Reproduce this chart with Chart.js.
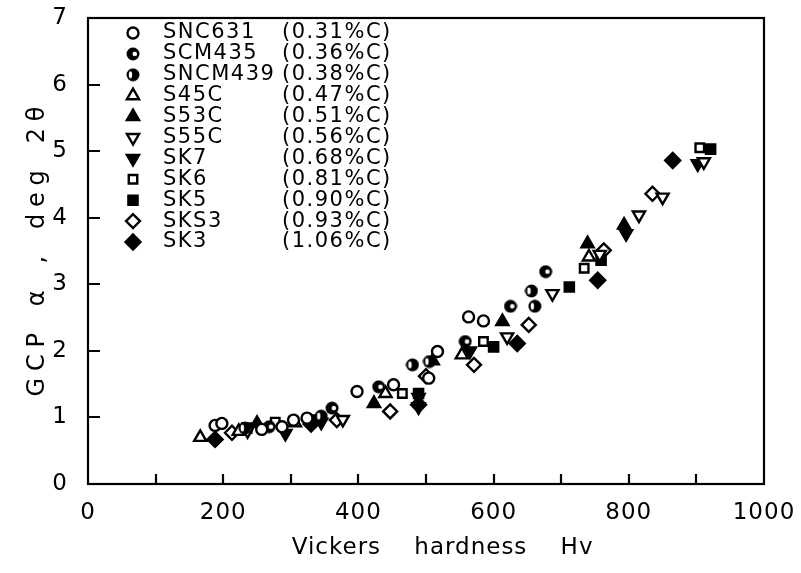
<!DOCTYPE html>
<html>
<head>
<meta charset="utf-8">
<style>
  html, body { margin: 0; padding: 0; background: #fff; }
  canvas { display: block; }
</style>
<script src="https://cdn.jsdelivr.net/npm/chart.js@4.4.0/dist/chart.umd.min.js"></script>
</head>
<body>
<canvas id="gcpChart" width="801" height="573"></canvas>
<script>
// steel grades and carbon content, in legend order
const steels = ['SNC631', 'SCM435', 'SNCM439', 'S45C', 'S53C', 'S55C', 'SK7', 'SK6', 'SK5', 'SKS3', 'SK3'];
const carbon = ['(0.31%C)', '(0.36%C)', '(0.38%C)', '(0.47%C)', '(0.51%C)', '(0.56%C)', '(0.68%C)', '(0.81%C)', '(0.90%C)', '(0.93%C)', '(1.06%C)'];

// [Vickers hardness Hv, GCP alpha (deg 2theta)]
const SNC631 = [[188, 0.88], [198, 0.91], [257, 0.82], [287, 0.86], [304, 0.96], [324, 0.99], [398, 1.39], [452, 1.49], [504, 1.59], [517, 1.99], [563, 2.51], [585, 2.45]];
const SCM435 = [[268, 0.86], [361, 1.14], [430, 1.46], [558, 2.14], [625, 2.67], [677, 3.19]];
const SNCM439 = [[232, 0.84], [345, 1.02], [480, 1.79], [505, 1.84], [661, 2.67], [656, 2.90]];
const S45C = [[166, 0.70], [223, 0.79], [306, 0.92], [440, 1.36], [553, 1.94], [741, 3.41]];
const S53C = [[250, 0.91], [423, 1.21], [510, 1.85], [613, 2.44], [739, 3.61], [793, 3.89]];
const S55C = [[236, 0.80], [377, 0.97], [620, 2.21], [687, 2.86], [757, 3.45], [815, 4.04], [850, 4.31], [911, 4.84]];
const SK7 = [[292, 0.76], [345, 0.93], [489, 1.16], [489, 1.30], [565, 2.00], [796, 3.76], [902, 4.81]];
const SK6 = [[277, 0.93], [465, 1.36], [585, 2.14], [734, 3.24], [905, 5.05]];
const SK5 = [[235, 0.84], [335, 0.96], [489, 1.36], [600, 2.06], [712, 2.96], [759, 3.36], [921, 5.03]];
const SKS3 = [[213, 0.77], [368, 0.96], [447, 1.09], [500, 1.62], [571, 1.79], [652, 2.39], [763, 3.51], [835, 4.36]];
const SK3 = [[188, 0.67], [330, 0.90], [489, 1.19], [635, 2.11], [754, 3.06], [865, 4.86]];

// axis ticks
const xTickLabels = [0, 200, 400, 600, 800, 1000];
const xTickMarks = [100, 200, 300, 400, 500, 600, 700, 800, 900];
const yTickLabels = [0, 1, 2, 3, 4, 5, 6, 7];
const yTickMarks = [1, 2, 3, 4, 5, 6];

// circle with a white spot, used for the two alloy steels
const makeDot = (side) => {
    const c = document.createElement('canvas');
    c.width = 14; c.height = 14;
    const g = c.getContext('2d');
    g.fillStyle = '#000';
    g.beginPath(); g.arc(7, 7, 6.5, 0, Math.PI * 2); g.fill();
    g.fillStyle = '#fff';
    g.beginPath();
    if (side === 'right') {
        g.arc(8.8, 7, 2.3, 0, Math.PI * 2);
    } else {
        g.ellipse(4.5, 7, 1.7, 3.4, 0, 0, Math.PI * 2);
    }
    g.fill();
    return c;
};

const seriesData = [SNC631, SCM435, SNCM439, S45C, S53C, S55C, SK7, SK6, SK5, SKS3, SK3];
const markers = [
    { style: 'circle', fill: false, rot: 0, r: 5.5 },
    { style: makeDot('right'), fill: true, rot: 0, r: 6.5 },
    { style: makeDot('left'), fill: true, rot: 0, r: 6.5 },
    { style: 'triangle', fill: false, rot: 0, r: 7 },
    { style: 'triangle', fill: true, rot: 0, r: 7 },
    { style: 'triangle', fill: false, rot: 180, r: 7 },
    { style: 'triangle', fill: true, rot: 180, r: 7 },
    { style: 'rect', fill: false, rot: 0, r: 6 },
    { style: 'rect', fill: true, rot: 0, r: 6.5 },
    { style: 'rectRot', fill: false, rot: 0, r: 7 },
    { style: 'rectRot', fill: true, rot: 0, r: 7.5 }
];

const datasets = steels.map((name, i) => ({
    label: name,
    data: seriesData[i].map(p => ({ x: p[0], y: p[1] })),
    pointStyle: markers[i].style,
    rotation: markers[i].rot,
    pointRadius: markers[i].r,
    pointHoverRadius: markers[i].r,
    borderWidth: 2.4,
    borderColor: '#000',
    backgroundColor: markers[i].fill ? '#000' : '#fff'
}));

// frame, inward tick marks and the in-plot legend
const framePlugin = {
    id: 'frame',
    beforeDraw(chart) {
        chart.ctx.letterSpacing = '1px';
    },
    afterDraw(chart) {
        const { ctx, chartArea: a, scales } = chart;
        ctx.save();
        ctx.letterSpacing = '0px';
        ctx.strokeStyle = '#000';
        ctx.lineWidth = 2.2;
        ctx.strokeRect(a.left, a.top, a.right - a.left, a.bottom - a.top);
        ctx.beginPath();
        xTickMarks.forEach(v => {
            const x = Math.round(scales.x.getPixelForValue(v));
            ctx.moveTo(x, a.bottom);
            ctx.lineTo(x, a.bottom - 10);
        });
        yTickMarks.forEach(v => {
            const y = Math.round(scales.y.getPixelForValue(v));
            ctx.moveTo(a.left, y);
            ctx.lineTo(a.left + 12, y);
        });
        ctx.stroke();

        // legend
        ctx.font = '21px "DejaVu Sans"';
        ctx.letterSpacing = '1.5px';
        ctx.fillStyle = '#000';
        ctx.textBaseline = 'middle';
        steels.forEach((name, i) => {
            const y = 33 + i * 20.9;
            const m = markers[i];
            const opts = { pointStyle: m.style, rotation: m.rot, radius: m.r, borderWidth: 2.4 };
            ctx.save();
            ctx.strokeStyle = '#000';
            ctx.lineWidth = 2.4;
            ctx.fillStyle = m.fill ? '#000' : '#fff';
            Chart.helpers.drawPoint(ctx, opts, 133, y);
            ctx.restore();
            ctx.fillText(name, 163, y);
            ctx.fillText(carbon[i], 282, y);
        });
        ctx.restore();
    }
};

const ctx = document.getElementById('gcpChart').getContext('2d');
new Chart(ctx, {
    type: 'scatter',
    data: { datasets },
    options: {
        responsive: false,
        animation: false,
        layout: { padding: { top: 18, right: 37, left: 0, bottom: 0 } },
        plugins: {
            legend: { display: false },
            tooltip: { enabled: false }
        },
        scales: {
            x: {
                type: 'linear',
                min: 0,
                max: 1000,
                afterFit: (scale) => {
                    scale.height = 89;
                    scale.paddingLeft = 0;
                    scale.paddingRight = 0;
                },
                grid: { display: false, drawTicks: false },
                border: { display: false },
                ticks: {
                    stepSize: 100,
                    autoSkip: false,
                    maxRotation: 0,
                    padding: 15,
                    color: '#000',
                    font: { family: 'DejaVu Sans', size: 23 },
                    callback: (v) => xTickLabels.includes(v) ? String(v) : ''
                },
                title: {
                    display: true,
                    text: '    Vickers    hardness    Hv',
                    color: '#000',
                    font: { family: 'DejaVu Sans', size: 23 },
                    padding: { top: 0, bottom: 11 }
                }
            },
            y: {
                type: 'linear',
                min: 0,
                max: 7,
                afterFit: (scale) => {
                    scale.width = 88;
                    scale.paddingTop = 0;
                    scale.paddingBottom = 0;
                },
                grid: { display: false, drawTicks: false },
                border: { display: false },
                ticks: {
                    stepSize: 1,
                    padding: 20,
                    color: '#000',
                    font: { family: 'DejaVu Sans', size: 23 },
                    callback: (v) => yTickLabels.includes(v) ? String(v) : ''
                },
                title: {
                    display: true,
                    text: 'G\u2009C\u2009P   α   ,   d\u2009e\u2009g   2\u2009θ',
                    color: '#000',
                    font: { family: 'DejaVu Sans', size: 24 },
                    padding: { top: 23, bottom: 0 }
                }
            }
        }
    },
    plugins: [framePlugin]
});
</script>
</body>
</html>
